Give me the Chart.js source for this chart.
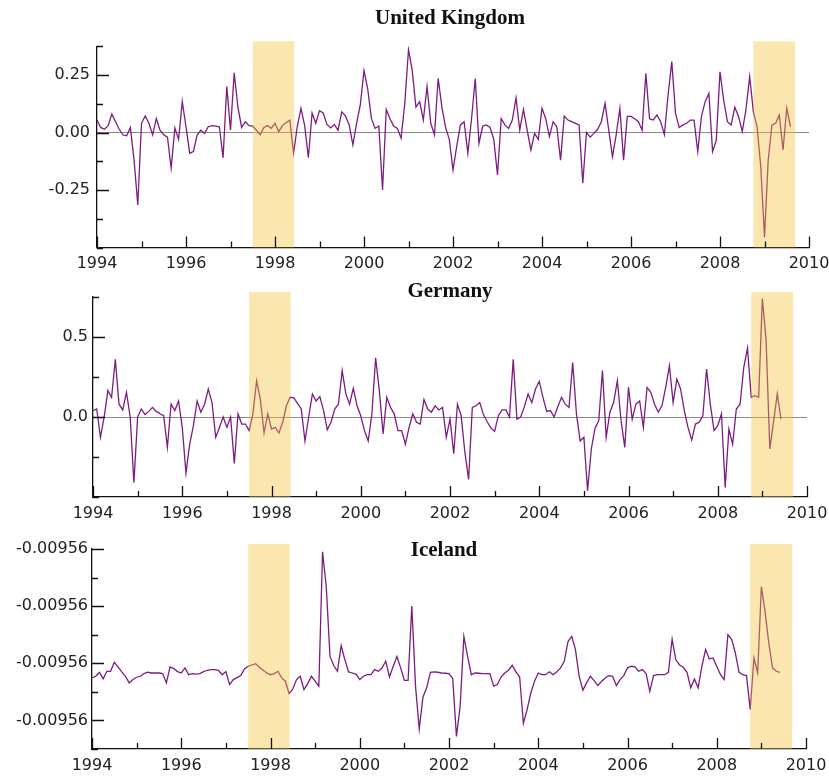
<!DOCTYPE html>
<html>
<head>
<meta charset="utf-8">
<script src="https://cdn.jsdelivr.net/npm/chart.js@4.4.1/dist/chart.umd.min.js"></script>
<style>
  body { margin: 0; background: #fff; width: 829px; height: 782px; position: relative; overflow: hidden; }
  canvas { position: absolute; left: 0; }
</style>
</head>
<body>
<canvas id="ukChart" width="829" height="280" style="top:0px"></canvas>
<canvas id="deChart" width="829" height="250" style="top:280px"></canvas>
<canvas id="isChart" width="829" height="252" style="top:530px"></canvas>
<script>
// monthly series, first value = Jan 1994
const START_YEAR = 1994;
const END_YEAR = 2010;
const RECESSIONS = [[1997.5, 1998.43], [2008.75, 2009.69]];

const UK_VALUES = [
  0.054, 0.022, 0.014, 0.03, 0.08, 0.047, 0.014, -0.011, -0.014, 0.022, -0.12, -0.315,
  0.04, 0.072, 0.04, -0.01, 0.06, 0.01, -0.01, -0.02, -0.155, 0.02, -0.03, 0.134,
  0.025, -0.09, -0.083, -0.011, 0.01, -0.004, 0.025, 0.03, 0.028, 0.025, -0.11, 0.2,
  0.01, 0.26, 0.11, 0.022, 0.047, 0.03, 0.028, 0.01, -0.01, 0.022, 0.03, 0.018,
  0.04, 0.004, 0.03, 0.043, 0.054, -0.09, 0.025, 0.105, 0.03, -0.11, 0.085, 0.04,
  0.095, 0.085, 0.035, 0.02, 0.035, 0.01, 0.09, 0.072, 0.033, -0.054, 0.04, 0.12,
  0.27, 0.19, 0.06, 0.018, 0.028, -0.25, 0.1, 0.06, 0.028, 0.018, -0.025, 0.127,
  0.36, 0.27, 0.11, 0.134, 0.054, 0.2, 0.04, -0.01, 0.235, 0.11, 0.022, -0.03,
  -0.163, -0.06, 0.033, 0.047, -0.09, 0.06, 0.235, -0.047, 0.028, 0.033, 0.022, -0.03,
  -0.185, 0.06, 0.033, 0.018, 0.054, 0.15, 0.01, 0.1, 0.01, -0.076, -0.004, -0.03,
  0.105, 0.06, -0.018, 0.047, 0.025, -0.12, 0.072, 0.054, 0.047, 0.04, 0.033, -0.22,
  0.0, -0.02, -0.004, 0.014, 0.047, 0.127, 0.01, -0.105, -0.01, 0.105, -0.12, 0.07,
  0.07, 0.06, 0.047, 0.01, 0.257, 0.06, 0.054, 0.076, 0.047, -0.01, 0.163, 0.308,
  0.083, 0.022, 0.033, 0.04, 0.054, 0.054, -0.083, 0.07, 0.134, 0.17, -0.083, -0.033,
  0.264, 0.14, 0.047, 0.033, 0.11, 0.07, 0.004, 0.1, 0.243, 0.09, 0.025, -0.15,
  -0.455, -0.12, 0.033, 0.04, 0.076, -0.076, 0.105, 0.025
];

const DE_VALUES = [
  0.04, 0.05, -0.127, 0.0, 0.165, 0.123, 0.36, 0.08, 0.044, 0.154, 0.0, -0.41,
  0.0, 0.05, 0.015, 0.035, 0.06, 0.035, 0.02, 0.008, -0.19, 0.08, 0.04, 0.1,
  -0.065, -0.35, -0.17, -0.054, 0.1, 0.03, 0.08, 0.175, 0.09, -0.127, -0.065, 0.0,
  -0.065, 0.0, -0.29, 0.02, -0.044, -0.044, -0.085, 0.02, 0.227, 0.11, -0.1, 0.02,
  -0.075, -0.065, -0.1, -0.033, 0.07, 0.123, 0.12, 0.085, 0.05, -0.15, 0.0, 0.144,
  0.1, 0.127, 0.04, -0.08, -0.033, 0.05, 0.08, 0.29, 0.144, 0.08, 0.18, 0.07,
  0.008, -0.085, -0.15, 0.02, 0.37, 0.165, -0.106, 0.123, 0.06, 0.02, -0.085, -0.085,
  -0.17, -0.065, 0.02, -0.033, -0.044, 0.11, 0.05, 0.03, 0.07, 0.044, 0.06, -0.127,
  -0.013, -0.23, 0.08, 0.008, -0.22, -0.39, 0.06, 0.07, 0.09, 0.015, -0.03, -0.07,
  -0.09, 0.008, 0.044, 0.044, 0.0, 0.36, -0.013, 0.0, 0.065, 0.144, 0.09, 0.175,
  0.223, 0.123, 0.035, 0.04, 0.0, 0.065, 0.123, 0.08, 0.06, 0.34, 0.02, -0.15,
  -0.127, -0.46, -0.2, -0.07, -0.023, 0.29, -0.127, 0.03, 0.09, 0.227, -0.023, -0.19,
  0.185, -0.013, 0.08, 0.1, -0.065, 0.185, 0.154, 0.08, 0.03, 0.07, 0.185, 0.32,
  0.09, 0.237, 0.175, 0.04, -0.065, -0.144, -0.044, -0.033, 0.008, 0.3, 0.08, -0.085,
  -0.054, 0.02, -0.44, -0.075, -0.17, 0.05, 0.08, 0.31, 0.43, 0.123, 0.133, 0.123,
  0.74, 0.48, -0.2, -0.03, 0.144, -0.013
];

// Iceland moves in the last digits only, kept here in steps of the tick spacing
const IS_VALUES = [
  0.744, 0.773, 0.843, 0.727, 0.86, 0.86, 1.017, 0.936, 0.85, 0.773, 0.657, 0.715,
  0.756, 0.773, 0.82, 0.843, 0.83, 0.83, 0.83, 0.82, 0.657, 0.936, 0.907, 0.855,
  0.83, 0.92, 0.8, 0.82, 0.81, 0.82, 0.855, 0.878, 0.89, 0.89, 0.878, 0.8,
  0.855, 0.628, 0.715, 0.75, 0.785, 0.9, 0.948, 0.97, 0.994, 0.93, 0.878, 0.83,
  0.8, 0.82, 0.86, 0.744, 0.686, 0.47, 0.55, 0.715, 0.773, 0.54, 0.645, 0.773,
  0.686, 0.6, 2.95, 2.34, 1.12, 0.96, 0.86, 1.31, 1.06, 0.85, 0.83, 0.81,
  0.715, 0.773, 0.8, 0.8, 0.89, 0.86, 0.92, 1.035, 0.76, 0.948, 1.12, 0.92,
  0.7, 0.7, 2.0, 0.6, -0.15, 0.41, 0.57, 0.843, 0.85, 0.843, 0.83, 0.826,
  0.82, 0.733, -0.28, 0.25, 1.47, 1.12, 0.8, 0.83, 0.826, 0.82, 0.82, 0.82,
  0.6, 0.628, 0.76, 0.83, 0.878, 0.965, 0.85, 0.76, -0.05, 0.19, 0.48, 0.686,
  0.83, 0.8, 0.8, 0.85, 0.8, 0.85, 0.92, 1.035, 1.38, 1.47, 1.24, 0.773,
  0.53, 0.657, 0.773, 0.7, 0.61, 0.68, 0.744, 0.785, 0.773, 0.61, 0.715, 0.785,
  0.92, 0.948, 0.936, 0.86, 0.89, 0.82, 0.51, 0.785, 0.8, 0.8, 0.8, 0.843,
  1.42, 1.06, 0.97, 0.93, 0.843, 0.57, 0.727, 0.57, 0.948, 1.24, 1.075, 1.093,
  0.948, 0.8, 0.715, 1.5, 1.42, 1.18, 0.843, 0.8, 0.785, 0.19, 1.093, 0.83,
  2.34, 1.9, 1.35, 0.92, 0.86, 0.843
];

const UK_Y_LABELS = [0.25, 0, -0.25];
const DE_Y_LABELS = [0.5, 0];
const IS_Y_LABELS = ['-0.00956', '-0.00956', '-0.00956', '-0.00956']; // at 0,1,2,3

const LINE_COLOR = '#7c1c80';
const SHADE_COLOR = 'rgba(245, 192, 57, 0.4)';
const TICK_FONT = { family: 'DejaVu Sans', size: 16 };

function toPoints(values) {
  return values.map((v, i) => ({ x: START_YEAR + i / 12, y: v }));
}

function listLabel(list, decimals) {
  return v => {
    const hit = list.find(l => Math.abs(l - v) < 1e-9);
    return hit === undefined ? '' : hit.toFixed(decimals);
  };
}

// recession bands, drawn over the line like the original
const shading = {
  id: 'shading',
  afterDatasetsDraw(chart) {
    const { ctx, chartArea: a, scales: { x } } = chart;
    ctx.save();
    ctx.fillStyle = SHADE_COLOR;
    RECESSIONS.forEach(([s, e]) => {
      const x0 = x.getPixelForValue(s), x1 = x.getPixelForValue(e);
      ctx.fillRect(x0, a.top - 5, x1 - x0, a.bottom - a.top + 5);
    });
    ctx.restore();
  }
};

// tick marks point inwards, long ones where there is a label
const innerTicks = {
  id: 'innerTicks',
  afterDraw(chart) {
    const { ctx, chartArea: a, scales: { x, y } } = chart;
    ctx.save();
    ctx.strokeStyle = '#111';
    ctx.lineWidth = 1.3;
    ctx.beginPath();
    x.ticks.forEach(t => {
      const px = Math.round(x.getPixelForValue(t.value)) + 0.5;
      ctx.moveTo(px, a.bottom);
      ctx.lineTo(px, a.bottom - (t.label ? 11 : 6));
    });
    y.ticks.forEach(t => {
      const py = Math.round(y.getPixelForValue(t.value)) + 0.5;
      ctx.moveTo(a.left, py);
      ctx.lineTo(a.left + (t.label ? 12 : 6), py);
    });
    ctx.stroke();
    ctx.restore();
  }
};

const panelTitle = {
  id: 'panelTitle',
  afterDraw(chart, args, opts) {
    const { ctx, chartArea: a } = chart;
    ctx.save();
    ctx.font = 'bold 21px "Liberation Serif"';
    ctx.fillStyle = '#111';
    ctx.textAlign = 'center';
    ctx.textBaseline = 'alphabetic';
    ctx.fillText(opts.text, (a.left + a.right) / 2 + opts.dx, opts.y);
    ctx.restore();
  }
};

function makePanel(id, p) {
  const canvas = document.getElementById(id);
  new Chart(canvas, {
    type: 'line',
    data: {
      datasets: [{
        data: toPoints(p.values),
        borderColor: LINE_COLOR,
        borderWidth: 1.3,
        pointRadius: 0,
        tension: 0
      }]
    },
    options: {
      responsive: false,
      animation: false,
      layout: { padding: { top: p.top, right: 829 - p.right, bottom: 0, left: 0 } },
      plugins: {
        legend: { display: false },
        tooltip: { enabled: false },
        panelTitle: p.title
      },
      scales: {
        x: {
          type: 'linear',
          min: START_YEAR,
          max: END_YEAR,
          grid: { display: false, drawTicks: false },
          border: { display: true, color: '#111', width: 1.3 },
          ticks: {
            stepSize: 1,
            autoSkip: false,
            maxRotation: 0,
            padding: 7,
            color: '#222',
            font: TICK_FONT,
            callback: v => (v % 2 === 0 ? String(v) : '')
          },
          afterFit: s => {
            s.height = canvas.height - p.bottom;
            s.paddingLeft = 0;
            s.paddingRight = 0;
          }
        },
        y: {
          min: p.yMin,
          max: p.yMax,
          grid: {
            display: p.zeroLine,
            drawTicks: false,
            color: c => (c.tick && c.tick.value === 0 ? '#8a8a8a' : 'rgba(0,0,0,0)'),
            lineWidth: 1
          },
          border: { display: true, color: '#111', width: 1.3 },
          ticks: {
            stepSize: p.yStep,
            autoSkip: false,
            padding: p.labelPad,
            color: '#222',
            font: TICK_FONT,
            callback: p.yLabel
          },
          afterFit: s => {
            s.width = p.left;
            s.paddingTop = 0;
            s.paddingBottom = 0;
          }
        }
      }
    },
    plugins: [shading, innerTicks, panelTitle]
  });
}

makePanel('ukChart', {
  values: UK_VALUES,
  left: 97, right: 809, top: 46.25, bottom: 247.5,
  yMin: -0.5, yMax: 0.375, yStep: 0.125,
  yLabel: listLabel(UK_Y_LABELS, 2),
  labelPad: 7, zeroLine: true,
  title: { text: 'United Kingdom', y: 24, dx: -3 }
});

makePanel('deChart', {
  values: DE_VALUES,
  left: 93, right: 807, top: 17, bottom: 217,
  yMin: -0.5, yMax: 0.75, yStep: 0.25,
  yLabel: listLabel(DE_Y_LABELS, 1),
  labelPad: 5, zeroLine: true,
  title: { text: 'Germany', y: 17, dx: 0 }
});

makePanel('isChart', {
  values: IS_VALUES,
  left: 92, right: 806, top: 19, bottom: 219,
  yMin: -0.5, yMax: 3, yStep: 0.5,
  yLabel: v => (Number.isInteger(v) ? IS_Y_LABELS[v] : ''),
  labelPad: 4, zeroLine: false,
  title: { text: 'Iceland', y: 26, dx: -5 }
});
</script>
</body>
</html>
